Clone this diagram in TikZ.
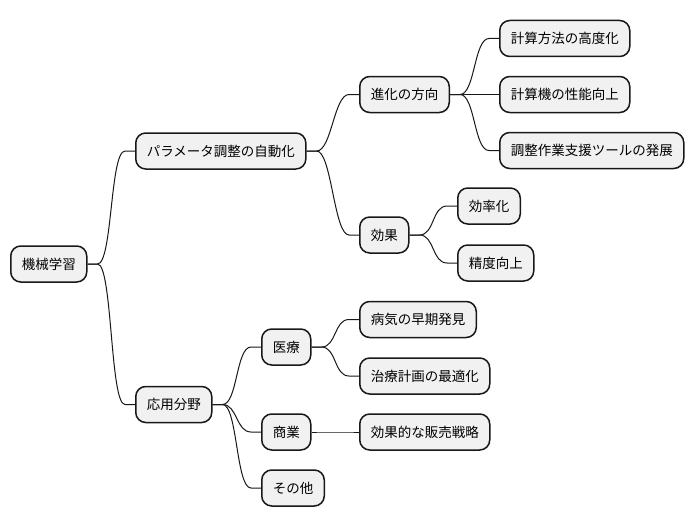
\documentclass[tikz,border=0pt]{standalone}
\usepackage{fontspec}
\usepackage{tikz}
\newfontfamily\jpfont{Noto Sans CJK JP}
\definecolor{MapFill}{HTML}{F1F1F1}
\definecolor{MapLine}{HTML}{181818}

\tikzset{
	topic/.style={draw=MapLine, fill=MapFill, line width=1.5pt, rounded corners=10pt, anchor=west,
		minimum height=36pt, inner xsep=11pt, inner ysep=0pt,
		font=\jpfont\fontsize{13.5}{16}\selectfont},
	branch/.style={draw=MapLine, line width=1pt}
}

\begin{document}
\begin{tikzpicture}[x=1pt, y=-1pt]
	\useasboundingbox (0,0) rectangle (698,527);

	% root and first level
	\node[topic] (ml) at (10,264) {機械学習};
	\node[topic] (param) at (135,151) {パラメータ調整の自動化};
	\node[topic] (app) at (135,404.5) {応用分野};

	% automation side
	\node[topic] (dir) at (359,94.5) {進化の方向};
	\node[topic] (eff) at (359,235) {効果};
	\node[topic] (calc) at (499,38.5) {計算方法の高度化};
	\node[topic] (perf) at (499,94.5) {計算機の性能向上};
	\node[topic] (tool) at (499,150.5) {調整作業支援ツールの発展};
	\node[topic] (effic) at (457,206) {効率化};
	\node[topic] (acc) at (457,263) {精度向上};

	% application side
	\node[topic] (med) at (261,347) {医療};
	\node[topic] (biz) at (261,432) {商業};
	\node[topic] (other) at (261,488) {その他};
	\node[topic] (early) at (359,319.5) {病気の早期発見};
	\node[topic] (plan) at (359,376) {治療計画の最適化};
	\node[topic] (sales) at (359,432) {効果的な販売戦略};

	\foreach \from/\to in {ml/param, ml/app, param/dir, param/eff, dir/calc, dir/perf, dir/tool,
		eff/effic, eff/acc, app/med, app/biz, app/other, med/early, med/plan, biz/sales} {
		\draw[branch] (\from.east) -- ++(10,0) .. controls +(15,0) and +(-15,0) .. ([xshift=-10pt]\to.west) -- (\to.west);
	}
\end{tikzpicture}
\end{document}
